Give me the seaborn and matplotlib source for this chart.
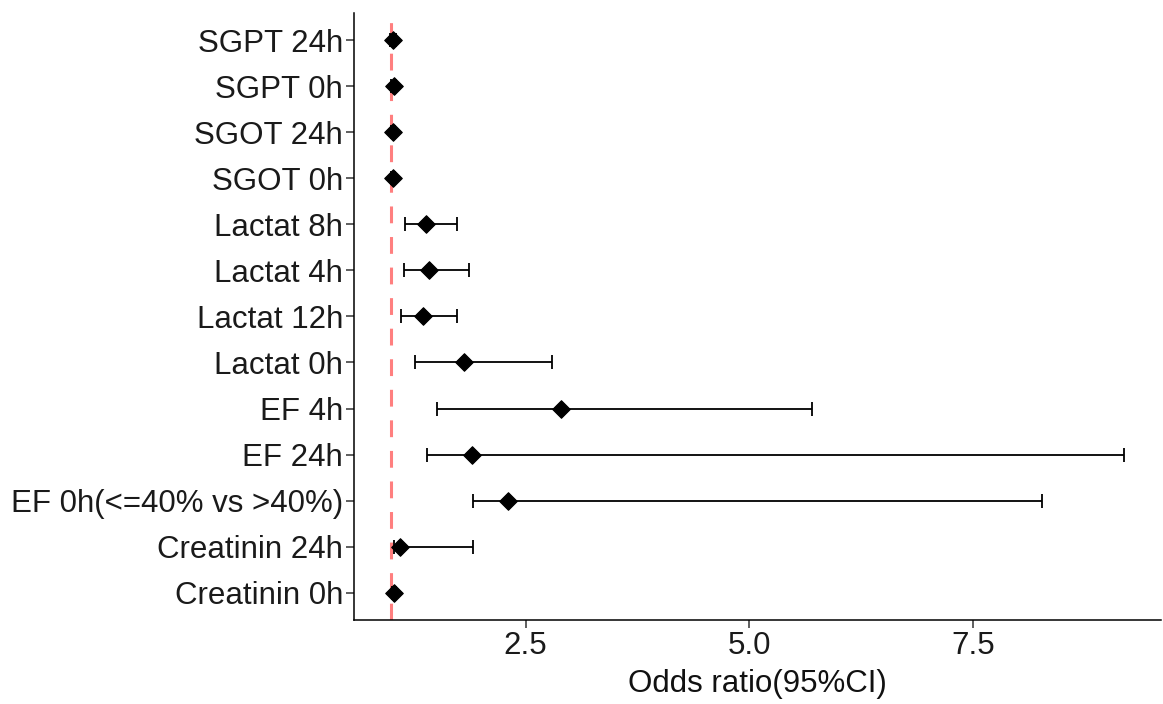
"""Forest plot of odds ratios with 95% CI."""

import matplotlib
matplotlib.use("Agg")
import matplotlib.pyplot as plt
import numpy as np
import pandas as pd
import seaborn as sns

# bottom to top
labels = ["Creatinin 0h", "Creatinin 24h", "EF 0h(<=40% vs >40%)", "EF 24h", "EF 4h",
          "Lactat 0h", "Lactat 12h", "Lactat 4h", "Lactat 8h",
          "SGOT 0h", "SGOT 24h", "SGPT 0h", "SGPT 24h"]
odds = [1.03, 1.10, 2.30, 1.90, 2.90, 1.81, 1.36, 1.42, 1.39, 1.02, 1.02, 1.03, 1.02]
ci_low = [1.01, 1.03, 1.91, 1.40, 1.51, 1.27, 1.11, 1.14, 1.16, 1.00, 1.00, 1.00, 0.99]
ci_high = [1.05, 1.91, 8.27, 9.18, 5.70, 2.79, 1.73, 1.87, 1.73, 1.04, 1.04, 1.05, 1.05]
xticks = [2.5, 5.0, 7.5]

sns.set_theme(style="ticks")
plt.rcParams["font.family"] = ["Liberation Sans", "DejaVu Sans"]

df = pd.DataFrame({"label": labels, "or": odds, "lo": ci_low, "hi": ci_high})
df["pos"] = np.arange(len(df))

fig, ax = plt.subplots(figsize=(11.63, 7.04), dpi=100)
fig.subplots_adjust(left=0.304, right=0.998, top=0.982, bottom=0.119)

ax.axvline(1, color="#FF7F7F", lw=2.2, dashes=(5.5, 4.5), zorder=1)
ax.errorbar(df["or"], df["pos"],
            xerr=[df["or"] - df["lo"], df["hi"] - df["or"]],
            fmt="none", ecolor="black", elinewidth=1.3, capsize=5, capthick=1.3, zorder=2)
sns.scatterplot(data=df, x="or", y="pos", marker="D", s=80, color="black",
                edgecolor="black", linewidth=0.8, ax=ax, zorder=3, legend=False)

span = max(ci_high) - min(ci_low)
ax.set_xlim(min(ci_low) - 0.05 * span, max(ci_high) + 0.05 * span)
ax.set_ylim(-0.6, len(df) - 0.4)
ax.set_xticks(xticks)
ax.set_xticklabels([f"{t:.1f}" for t in xticks])
ax.set_yticks(df["pos"])
ax.set_yticklabels(df["label"])
ax.set_xlabel("Odds ratio(95%CI)", fontsize=22.5, color="#111111", labelpad=6)
ax.set_ylabel("")
ax.tick_params(axis="both", labelsize=22.5, labelcolor="#1a1a1a", length=5.5,
               width=1.1, color="#333333", pad=2)
sns.despine(ax=ax)
for side in ["left", "bottom"]:
    ax.spines[side].set_linewidth(1.1)
    ax.spines[side].set_color("black")

fig.savefig("out.png", dpi=100)
